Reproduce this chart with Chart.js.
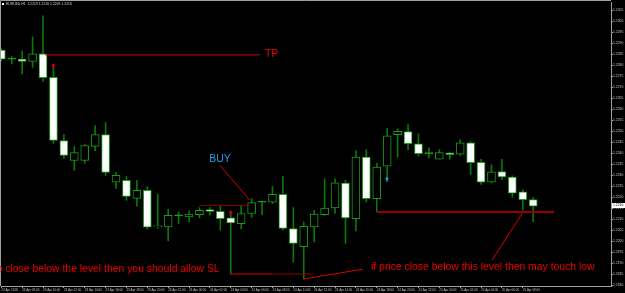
<!DOCTYPE html>
<html><head><meta charset="utf-8">
<script src="https://cdn.jsdelivr.net/npm/chart.js@4.4.1/dist/chart.umd.min.js"></script>
<style>html,body{margin:0;padding:0;background:#000;overflow:hidden}#wrap{width:625px;height:293px}</style>
</head><body><div id="wrap"><canvas id="c" width="625" height="293"></canvas></div>
<script>
const symbol = 'EURUSD,H1';
const timeLabels = ['23 Apr 2018','23 Apr 08:00','23 Apr 10:00','23 Apr 12:00','23 Apr 14:00','23 Apr 16:00','23 Apr 18:00','23 Apr 20:00','23 Apr 22:00','24 Apr 00:00','24 Apr 02:00','24 Apr 04:00','24 Apr 06:00','24 Apr 08:00','24 Apr 10:00','24 Apr 12:00','24 Apr 14:00','24 Apr 16:00','24 Apr 18:00','24 Apr 20:00','24 Apr 22:00','25 Apr 00:00','25 Apr 02:00','25 Apr 04:00','25 Apr 06:00','25 Apr 08:00'];
const opens  = [1.22868,1.22827,1.22827,1.22816,1.22851,1.22744,1.22457,1.22366,1.22366,1.22430,1.22484,1.22267,1.22276,1.22194,1.22230,1.22064,1.22064,1.22114,1.22109,1.22120,1.22143,1.22135,1.22105,1.22079,1.22125,1.22177,1.22176,1.22212,1.22057,1.21974,1.22064,1.22120,1.22150,1.22263,1.22102,1.22381,1.22193,1.22340,1.22483,1.22497,1.22442,1.22397,1.22372,1.22401,1.22395,1.22446,1.22358,1.22268,1.22316,1.22291,1.22223,1.22188];
const highs  = [1.22873,1.22839,1.22864,1.22928,1.23023,1.22792,1.22484,1.22430,1.22439,1.22525,1.22538,1.22312,1.22294,1.22276,1.22248,1.22212,1.22144,1.22132,1.22137,1.22152,1.22152,1.22158,1.22132,1.22162,1.22193,1.22182,1.22248,1.22294,1.22152,1.22087,1.22140,1.22283,1.22283,1.22276,1.22411,1.22415,1.22354,1.22512,1.22510,1.22529,1.22487,1.22424,1.22415,1.22402,1.22460,1.22452,1.22371,1.22347,1.22371,1.22296,1.22233,1.22197];
const lows   = [1.22819,1.22805,1.22759,1.22789,1.22725,1.22444,1.22375,1.22321,1.22353,1.22411,1.22298,1.22239,1.22185,1.22158,1.22054,1.22058,1.22001,1.22079,1.22087,1.22105,1.22117,1.22049,1.21850,1.22055,1.22107,1.22120,1.22170,1.22049,1.21904,1.21827,1.21996,1.22117,1.22125,1.21989,1.22046,1.22177,1.22132,1.22283,1.22381,1.22415,1.22386,1.22377,1.22372,1.22372,1.22389,1.22303,1.22257,1.22264,1.22280,1.22200,1.22140,1.22087];
const closes = [1.22827,1.22827,1.22816,1.22851,1.22743,1.22457,1.22389,1.22402,1.22434,1.22484,1.22312,1.22298,1.22203,1.22230,1.22063,1.22067,1.22117,1.22114,1.22122,1.22140,1.22135,1.22102,1.22082,1.22125,1.22175,1.22177,1.22212,1.22057,1.21989,1.22067,1.22122,1.22150,1.22265,1.22105,1.22381,1.22193,1.22336,1.22478,1.22499,1.22442,1.22397,1.22397,1.22402,1.22392,1.22446,1.22356,1.22268,1.22315,1.22291,1.22218,1.22188,1.22158];
const priceTicks = [1.2305,1.2300,1.2295,1.2290,1.2285,1.2280,1.2275,1.2270,1.2265,1.2260,1.2255,1.2250,1.2245,1.2240,1.2235,1.2230,1.2225,1.2220,1.2215,1.2210,1.2205,1.2200,1.2195,1.2190,1.2185,1.2180];
// annotation objects in (bar index, price) coordinates
const annoLines = [
  {x1:4.19, y1:1.22846, x2:24.80, y2:1.22846, kind:'red'},
  {x1:20.97, y1:1.22343, x2:23.84, y2:1.22185, kind:'red'},
  {x1:18.98, y1:1.22162, x2:23.84, y2:1.22162, kind:'dark'},
  {x1:35.99, y1:1.22132, x2:52.99, y2:1.22132, kind:'darkThick'},
  {x1:50.02, y1:1.22131, x2:47.05, y2:1.21913, kind:'red'},
  {x1:21.99, y1:1.21850, x2:26.05, y2:1.21850, kind:'red'},
  {x1:26.05, y1:1.21850, x2:29.89, y2:1.21850, kind:'dark'},
  {x1:28.93, y1:1.21827, x2:34.68, y2:1.21872, kind:'red'}
];
const annoTexts = [
  {x:25.28, y:1.22837, text:'TP', kind:'red', align:'left'},
  {x:19.94, y:1.22357, text:'BUY', kind:'blue', align:'left'},
  {x:35.45, y:1.21870, text:'if price close below this level then may touch low', kind:'red', align:'left'},
  {x:20.93, y:1.21859, text:'e close below the level then you should allow SL', kind:'red', align:'right'}
];
const annoArrows = [
  {x:4.99, y:1.22795, kind:'red'},
  {x:21.99, y:1.22127, kind:'red'},
  {x:36.98, y:1.22279, kind:'blue'}
];

const COLORS = {red:'#dd0000', dark:'#8e0000', darkThick:'#960000', blue:'#1ea0e8', text:'#ee0000'};
const idx = opens.map((_, i) => i);
const wickData = idx.map(i => ({x:i, y:[lows[i], highs[i]]}));
const bodyData = idx.map(i => ({x:i, y:[opens[i], closes[i]]}));
const bodyFill = idx.map(i => closes[i] > opens[i] ? '#000000' : (closes[i] < opens[i] ? '#ffffff' : '#1fb01f'));

const lineSets = annoLines.map(l => ({
  type:'line', data:[{x:l.x1, y:l.y1},{x:l.x2, y:l.y2}],
  borderColor: COLORS[l.kind], borderWidth: l.kind === 'darkThick' ? 2 : 1,
  pointRadius:0, fill:false, order:-1, tension:0
}));

const FONT = '"Liberation Sans", Arial, sans-serif';
const overlay = {
  id:'overlay',
  afterDraw(chart){
    const {ctx, chartArea:a, scales:{x, y}} = chart;
    ctx.save();
    ctx.strokeStyle = '#a0a0a0'; ctx.lineWidth = 1;
    ctx.beginPath();
    ctx.moveTo(0.5, a.bottom); ctx.lineTo(0.5, 0.5); ctx.lineTo(a.right, 0.5);
    ctx.stroke();
    // header
    ctx.fillStyle = '#ffffff'; ctx.fillRect(2, 3, 2, 2);
    const n = closes.length - 1;
    ctx.fillStyle = '#d0d0d0';
    ctx.font = '3.4px ' + FONT;
    ctx.textBaseline = 'middle'; ctx.textAlign = 'left';
    ctx.fillText(symbol + '  ' + [opens[n], highs[n], lows[n], closes[n]].map(v => v.toFixed(4)).join(' '), 6, 4.5);
    // arrows
    annoArrows.forEach(ar => {
      const px = x.getPixelForValue(ar.x), py = y.getPixelForValue(ar.y);
      ctx.fillStyle = COLORS[ar.kind];
      ctx.fillRect(px - 1.5, py - 1.5, 3, 1.5);
      ctx.fillRect(px - 0.7, py - 2.5, 1.5, 4.5);
    });
    // texts
    ctx.textBaseline = 'alphabetic';
    annoTexts.forEach(t => {
      ctx.fillStyle = t.kind === 'blue' ? COLORS.blue : COLORS.text;
      ctx.font = '10.4px ' + FONT;
      ctx.textAlign = t.align;
      ctx.fillText(t.text, x.getPixelForValue(t.x), y.getPixelForValue(t.y));
    });
    // current price label
    const cy = y.getPixelForValue(closes[n]);
    ctx.fillStyle = '#ffffff';
    ctx.fillRect(a.right + 1, Math.round(cy) - 3, 625 - a.right - 1, 5);
    ctx.fillStyle = '#000000'; ctx.textAlign = 'left'; ctx.textBaseline = 'middle';
    ctx.font = '3.4px ' + FONT;
    ctx.fillText(closes[n].toFixed(4), a.right + 2, Math.round(cy) - 0.5);
    ctx.restore();
  }
};

new Chart(document.getElementById('c'), {
  type:'bar',
  data:{
    datasets:[
      ...lineSets,
      {data:bodyData, backgroundColor:bodyFill, borderColor:'#1a9c1a', borderWidth:1, borderSkipped:false, barThickness:8, minBarLength:1, grouped:false, order:1},
      {data:wickData, backgroundColor:'#0b760b', borderWidth:0, barThickness:1, grouped:false, order:2}
    ]
  },
  options:{
    responsive:false, animation:false, devicePixelRatio:1,
    layout:{padding:{top:1, left:1, right:0, bottom:0}},
    plugins:{legend:{display:false}, tooltip:{enabled:false}},
    scales:{
      x:{type:'linear', min:-0.029, max:58.46, offset:false,
        afterBuildTicks:s => { s.ticks = timeLabels.map((_, k) => ({value:2*k})); },
        afterFit:s => { s.height = 7; },
        ticks:{autoSkip:false, maxRotation:0, minRotation:0, align:'start', padding:0, color:'#c0c0c0',
          font:{size:3, family:FONT},
          callback:v => timeLabels[Math.round(v/2)]},
        grid:{display:true, offset:false, drawOnChartArea:false, drawTicks:true, tickLength:2, color:'#a0a0a0'},
        border:{display:true, color:'#a0a0a0'}},
      y:{type:'linear', position:'right', min:1.217955, max:1.230862,
        afterBuildTicks:s => { s.ticks = priceTicks.map(v => ({value:v})); },
        afterFit:s => { s.width = 14; },
        ticks:{padding:0, color:'#c0c0c0', font:{size:3.4, family:FONT},
          callback:v => Number(v).toFixed(4)},
        grid:{drawOnChartArea:false, drawTicks:true, tickLength:2, color:'#a0a0a0'},
        border:{display:true, color:'#a0a0a0'}}
    }
  },
  plugins:[overlay]
});
</script></body></html>
